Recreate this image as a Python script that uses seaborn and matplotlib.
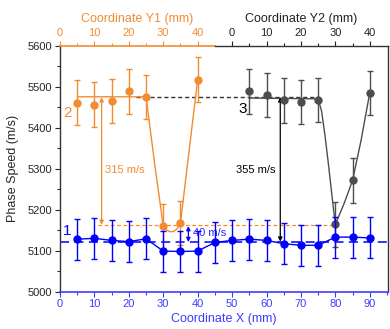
"""
Phase speed along three scan lines (X, Y1, Y2) with fitted profiles.
"""

import numpy as np
import matplotlib
matplotlib.use("Agg")
import matplotlib.pyplot as plt
import seaborn as sns

# --- data ---
# line 1: coordinate X
x1 = [5, 10, 15, 20, 25, 30, 35, 40, 45, 50, 55, 60, 65, 70, 75, 80, 85, 90]
v1 = [5128, 5130, 5125, 5122, 5129, 5099, 5098, 5099, 5120,
      5125, 5128, 5125, 5117, 5113, 5113, 5133, 5133, 5131]
e1 = [50] * len(x1)

# line 2: coordinate Y1 (same scale as X)
y1 = [5, 10, 15, 20, 25, 30, 35, 40]
v2 = [5461, 5456, 5464, 5488, 5475, 5160, 5168, 5517]
e2 = [54] * len(y1)

# line 3: coordinate Y2 (Y2 = X - 50)
y2 = [5, 10, 15, 20, 25, 30, 35, 40]
v3 = [5488, 5480, 5466, 5463, 5467, 5164, 5271, 5485]
e3 = [54] * len(y2)

# fitted profiles as drawn
fit2_x = [5, 25, 27.5, 30, 31, 32, 33, 34, 35, 37.5, 40]
fit2_y = [5475, 5475, 5312, 5160, 5150, 5146, 5147, 5153, 5168, 5342, 5517]
fit3_x = [55, 75, 76, 77, 78, 79, 80, 82.5, 85, 87.5, 90]
fit3_y = [5472, 5470, 5440, 5380, 5310, 5235, 5164, 5214, 5271, 5370, 5485]

# reference levels
level1 = 5120
level2_low = 5163
level_high = 5474

Y2_OFFSET = 50

ORANGE = '#F28C30'
BLUE = '#0000FF'
AXBLUE = '#3C3CFF'
GRAY = '#4D4D4D'

sns.set_style('ticks')
plt.rcParams['font.family'] = ['Liberation Sans', 'DejaVu Sans']
plt.rcParams['xtick.direction'] = 'out'
plt.rcParams['ytick.direction'] = 'out'

fig = plt.figure(figsize=(3.9, 3.29), dpi=100)
ax = fig.add_axes([0.1538, 0.1134, 0.8411, 0.7483])

xmax = 95.3
ax.set_xlim(0, xmax)
ax.set_ylim(5000, 5600)

# reference lines
ax.axhline(level1, color=BLUE, lw=1.3, ls=(0, (5, 3)), alpha=0.85, zorder=1)
ax.plot([11, 80], [level2_low] * 2, color=ORANGE, lw=0.9, ls=(0, (3, 2)), zorder=1)
ax.plot([22, 75], [level_high] * 2, color='#333333', lw=1.0, ls=(0, (3, 2)), zorder=1)

# line 1
sns.lineplot(x=x1, y=v1, ax=ax, color=BLUE, lw=1.0, sort=False, estimator=None, zorder=3)
ax.errorbar(x1, v1, yerr=e1, fmt='o', color=BLUE, ms=5, capsize=2.5,
            elinewidth=1.0, capthick=1.0, zorder=4)

# line 2 (Y1 equals X on the shared scale)
sns.lineplot(x=fit2_x, y=fit2_y, ax=ax, color=ORANGE, lw=1.0, sort=False, estimator=None, zorder=2)
ax.errorbar(y1, v2, yerr=e2, fmt='o', color=ORANGE, ms=5, capsize=2.5,
            elinewidth=1.0, capthick=1.0, zorder=3)

# line 3 (shifted by the Y2 offset)
x3 = [v + Y2_OFFSET for v in y2]
sns.lineplot(x=fit3_x, y=fit3_y, ax=ax, color=GRAY, lw=1.0, sort=False, estimator=None, zorder=2)
ax.errorbar(x3, v3, yerr=e3, fmt='o', color=GRAY, ms=5, capsize=2.5,
            elinewidth=1.0, capthick=1.0, zorder=3)

# difference arrows
arrow_kw = dict(arrowstyle='<|-|>', lw=0.9, mutation_scale=6, shrinkA=0, shrinkB=0)
ax.annotate('', xy=(12.1, level_high), xytext=(12.1, level2_low),
            arrowprops=dict(color=ORANGE, **arrow_kw))
ax.annotate('', xy=(64, level_high), xytext=(64, level1 + 2),
            arrowprops=dict(color='black', **arrow_kw))
ax.annotate('', xy=(37.3, level2_low - 3), xytext=(37.3, level1 + 1),
            arrowprops=dict(color=BLUE, **arrow_kw))
ax.text(18.9, 5296, '315 m/s', color=ORANGE, fontsize=8, ha='center', va='center')
ax.text(56.9, 5296, '355 m/s', color='black', fontsize=8, ha='center', va='center')
ax.text(38.5, 5142, '40 m/s', color=BLUE, fontsize=8, ha='left', va='center', alpha=0.85)

# line numbers
ax.text(2.3, 5436, '2', color=ORANGE, fontsize=11, ha='center', va='center')
ax.text(53.1, 5446, '3', color='black', fontsize=11, ha='center', va='center')
ax.text(2.0, 5148, '1', color=BLUE, fontsize=11, ha='center', va='center')

# main axes styling
ax.set_xticks(np.arange(0, 91, 10))
ax.set_xticks(np.arange(5, 96, 10), minor=True)
ax.set_yticks(np.arange(5000, 5601, 100))
ax.set_yticks(np.arange(5050, 5600, 100), minor=True)
ax.tick_params(axis='both', which='major', length=3.5, width=0.8, labelsize=8, pad=2)
ax.tick_params(axis='both', which='minor', length=2, width=0.8)
ax.tick_params(axis='x', which='both', colors=AXBLUE)
ax.spines['bottom'].set_color(AXBLUE)
ax.spines['bottom'].set_linewidth(1.2)
ax.spines['left'].set_color('#333333')
ax.spines['right'].set_color('#333333')
ax.spines['right'].set_visible(True)
ax.spines['top'].set_visible(False)
for s in ['left', 'right']:
    ax.spines[s].set_linewidth(1.0)
ax.set_xlabel('Coordinate X (mm)', fontsize=9, color=AXBLUE, labelpad=3)
ax.set_ylabel('Phase Speed (m/s)', fontsize=9, labelpad=6)

# top axis Y1
ax_t1 = ax.twiny()
ax_t1.set_xlim(0, xmax)
ax_t1.set_xticks(np.arange(0, 41, 10))
ax_t1.set_xticks(np.arange(5, 36, 10), minor=True)
ax_t1.spines['top'].set_bounds(0, 45)
ax_t1.spines['top'].set_color(ORANGE)
ax_t1.spines['top'].set_linewidth(1.2)
ax_t1.tick_params(axis='x', which='major', length=3.5, width=0.8, labelsize=8, pad=2, colors=ORANGE)
ax_t1.tick_params(axis='x', which='minor', length=2, width=0.8, colors=ORANGE)
for s in ['left', 'right', 'bottom']:
    ax_t1.spines[s].set_visible(False)
ax.text(22.5, 1.108, 'Coordinate Y1 (mm)', transform=ax.get_xaxis_transform(),
        color=ORANGE, fontsize=9, ha='center', va='center')

# top axis Y2
ax_t2 = ax.twiny()
ax_t2.set_xlim(-Y2_OFFSET, xmax - Y2_OFFSET)
ax_t2.set_xticks(np.arange(0, 41, 10))
ax_t2.set_xticks(np.arange(5, 36, 10), minor=True)
ax_t2.spines['top'].set_bounds(-5, xmax - Y2_OFFSET)
ax_t2.spines['top'].set_color('#333333')
ax_t2.spines['top'].set_linewidth(1.0)
ax_t2.tick_params(axis='x', which='major', length=3.5, width=0.8, labelsize=8, pad=2, colors='#222222')
ax_t2.tick_params(axis='x', which='minor', length=2, width=0.8, colors='#222222')
for s in ['left', 'right', 'bottom']:
    ax_t2.spines[s].set_visible(False)
ax.text(70.2, 1.108, 'Coordinate Y2 (mm)', transform=ax.get_xaxis_transform(),
        color='#222222', fontsize=9, ha='center', va='center')

fig.savefig('out.png', dpi=100)
plt.close(fig)
